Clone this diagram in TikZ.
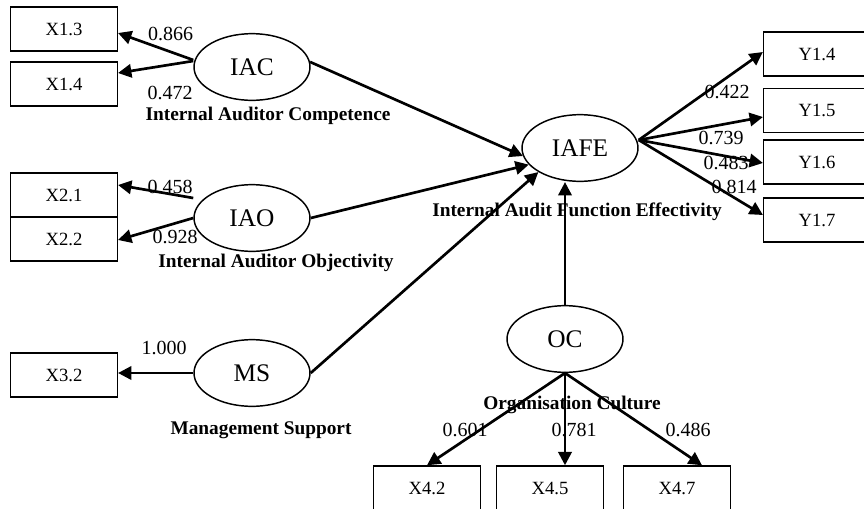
\documentclass[tikz,border=0pt]{standalone}
\usepackage{fontspec}
\setmainfont{Liberation Serif}
\usetikzlibrary{arrows.meta,calc,shapes.geometric}
\begin{document}
\begin{tikzpicture}[x=0.75pt,y=-0.75pt,
  obs/.style={draw,line width=1.1pt,minimum width=80pt,minimum height=33pt,inner sep=0pt,font=\fontsize{14}{16}\selectfont},
  lat/.style={draw,ellipse,line width=1.1pt,fill=white,minimum width=87pt,minimum height=50pt,inner sep=0pt,font=\fontsize{19}{22}\selectfont},
  coef/.style={inner sep=0pt,font=\fontsize{15}{17}\selectfont},
  cname/.style={inner sep=0pt,font=\bfseries\fontsize{14.5}{17}\selectfont},
  link/.style={line width=2pt,-{Triangle[length=10pt,width=10pt]}}
]
\useasboundingbox (0,0) rectangle (864,508);
\clip (0,0) rectangle (864,508);
\fill[white] (0,0) rectangle (864,508);

% latent variables
\node[lat] (IAC) at (252,67) {IAC};
\node[lat] (IAO) at (252,218) {IAO};
\node[lat] (MS) at (252,373) {MS};
\node[lat] (IAFE) at (580,148) {IAFE};
\node[lat] (OC) at (565,339) {OC};

% indicators
\node[obs] (X13) at (64,29) {X1.3};
\node[obs] (X14) at (64,84) {X1.4};
\node[obs] (X21) at (64,195) {X2.1};
\node[obs] (X22) at (64,239) {X2.2};
\node[obs] (X32) at (64,375) {X3.2};
\node[obs] (Y14) at (817,54) {Y1.4};
\node[obs] (Y15) at (817,110.5) {Y1.5};
\node[obs] (Y16) at (817,162) {Y1.6};
\node[obs] (Y17) at (817,220) {Y1.7};
\node[obs] (X42) at (427,488) {X4.2};
\node[obs] (X45) at (550,488) {X4.5};
\node[obs] (X47) at (677,488) {X4.7};

% construct names
\node[cname] (nIAC) at (268,116) {Internal Auditor Competence};
\node[cname] (nIAO) at (276,263) {Internal Auditor Objectivity};
\node[cname] (nMS) at (261,430) {Management Support};
\node[cname] (nIAFE) at (577,212) {Internal Audit Function Effectivity};
\node[cname] (nOC) at (572,405) {Organisation Culture};

% coefficients
\node[coef] (c1) at (170.5,34) {0.866};
\node[coef] (c2) at (170,93) {0.472};
\node[coef] (c3) at (170,187) {0.458};
\node[coef] (c4) at (175,237) {0.928};
\node[coef] (c5) at (164,348) {1.000};
\node[coef] (c6) at (727,92) {0.422};
\node[coef] (c7) at (721,138) {0.739};
\node[coef] (c8) at (726,163) {0.483};
\node[coef] (c9) at (734,187) {0.814};
\node[coef] (c10) at (465,430) {0.601};
\node[coef] (c11) at (574,430) {0.781};
\node[coef] (c12) at (688,430) {0.486};

% loadings
\draw[link] ($(IAC.west)+(0,-7)$) -- ($(X13.east)+(0,4)$);
\draw[link] ($(IAC.west)+(0,-6)$) -- ($(X14.east)+(0,-11)$);
\draw[link] ($(IAO.west)+(0,-20)$) -- ($(X21.east)+(0,-10)$);
\draw[link] (IAO.west) -- ($(X22.east)+(0,1)$);
\draw[link] (MS.west) -- (X32.east |- MS.west);

% structural paths
\draw[link] (IAC.5) -- (IAFE.188);
\draw[link] (IAO.east) -- (IAFE.198);
\draw[link] (MS.east) -- (IAFE.210);
\draw[link] (OC.north) -- (OC.north |- IAFE.south);

\coordinate (Q) at ($(IAFE.east)+(0,-8)$);
\draw[link] (Q) -- ($(Y14.west)+(0,-2)$);
\draw[link] (Q) -- ($(Y15.west)+(0,6.5)$);
\draw[link] (Q) -- ($(Y16.west)+(0,1)$);
\draw[link] (Q) -- ($(Y17.west)+(0,-5)$);

\draw[link] (OC.south) -- (X42.north);
\draw[link] (OC.south) -- (OC.south |- X45.north);
\draw[link] (OC.south) -- ($(X47.north)+(25,0)$);
\end{tikzpicture}
\end{document}
